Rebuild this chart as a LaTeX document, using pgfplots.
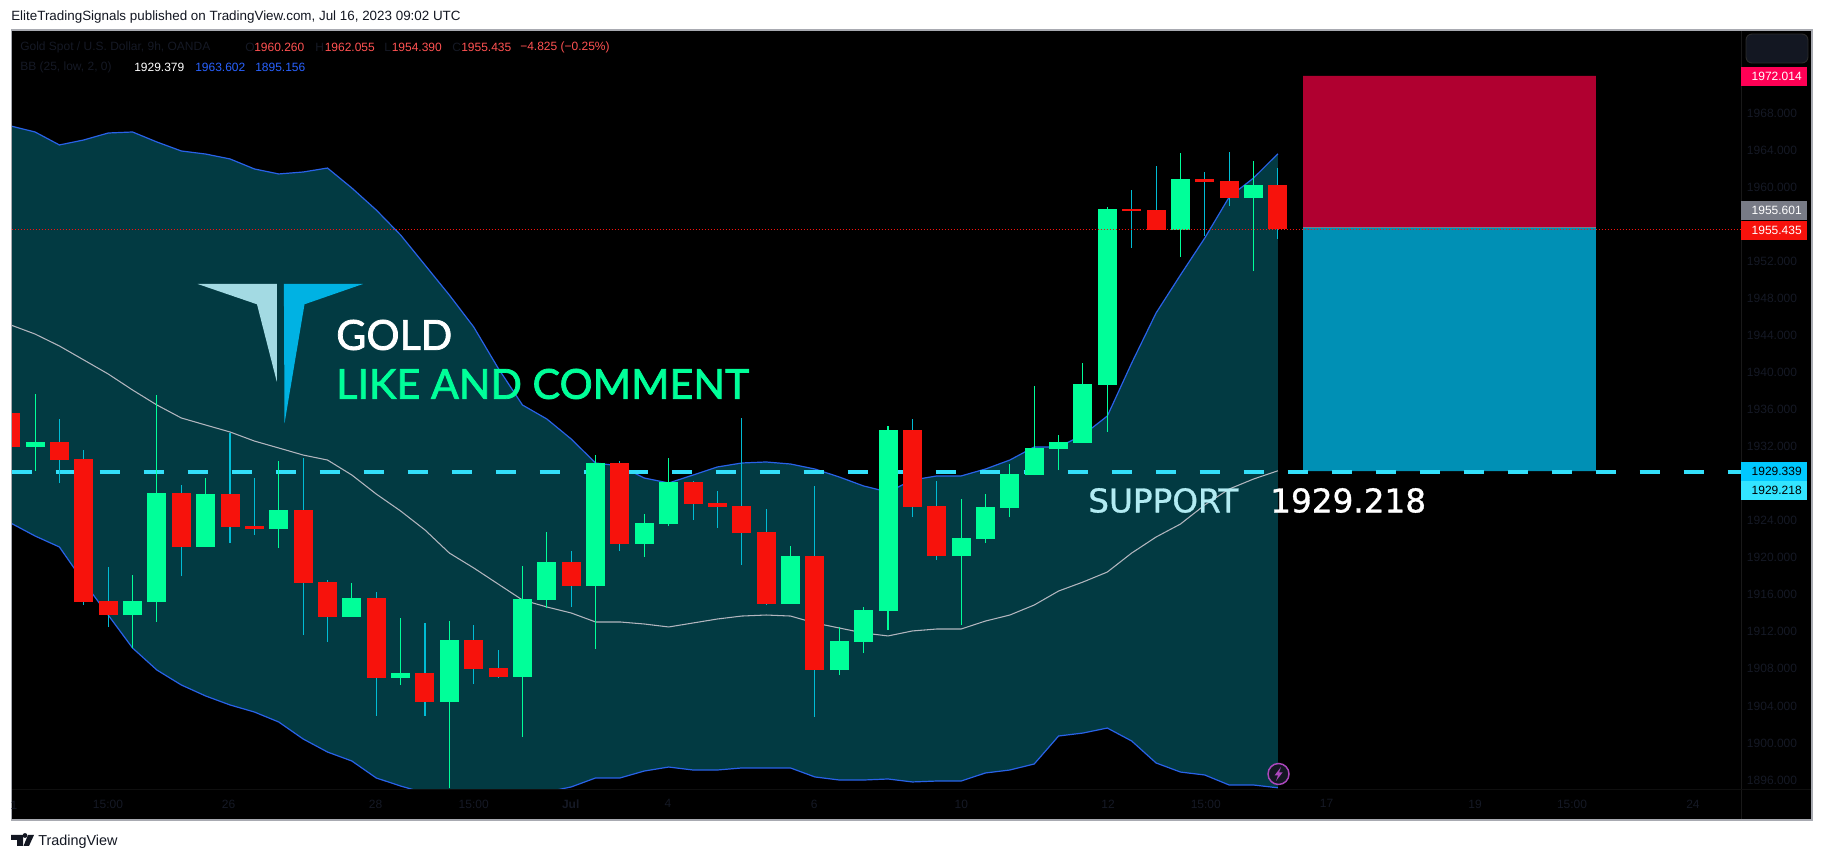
\documentclass[border=0pt]{standalone}
\usepackage{fontspec}
\usepackage{pgfplots}
\usepackage{pgfplotstable}
\pgfplotsset{compat=1.18}
\setmainfont{Liberation Sans}
\newfontfamily\dv[FakeBold=1]{DejaVu Sans}
\newfontfamily\lat[FakeBold=1.8]{Lato}
\definecolor{candG}{HTML}{00FF99}
\definecolor{candR}{HTML}{F7120C}
\definecolor{wickR}{HTML}{00BCD4}
\definecolor{bandL}{HTML}{2962E8}
\definecolor{bandF}{HTML}{023A42}
\definecolor{midL}{HTML}{B2B5BE}
\definecolor{dimT}{HTML}{151925}
\definecolor{legR}{HTML}{FF5252}
\definecolor{legB}{HTML}{2962FF}
\definecolor{supp}{HTML}{33DFFA}
\definecolor{boxR}{HTML}{B00030}
\definecolor{boxB}{HTML}{0090B5}
\definecolor{ink}{HTML}{131722}
\definecolor{plA}{HTML}{FF0055}
\definecolor{plB}{HTML}{787B86}
\definecolor{plC}{HTML}{00C8FF}
\definecolor{plD}{HTML}{33E5FF}
\definecolor{logoA}{HTML}{A3DAE3}
\definecolor{logoB}{HTML}{00B2E3}
\definecolor{suppT}{HTML}{B2EBF2}
\definecolor{purp}{HTML}{AB47BC}
\pgfplotstableread{
i up mid lo
0 1966.60 1945.12 1923.74
1 1965.95 1944.14 1922.34
2 1964.55 1942.85 1921.15
3 1965.09 1941.34 1917.37
4 1965.84 1939.83 1913.81
5 1965.95 1938.10 1910.25
6 1964.87 1936.48 1907.87
7 1963.90 1935.08 1906.26
8 1963.57 1934.32 1905.07
9 1963.04 1933.57 1904.10
10 1961.96 1932.59 1903.34
11 1961.42 1931.84 1902.26
12 1961.63 1931.08 1900.43
13 1962.06 1930.54 1899.02
14 1959.90 1928.92 1898.05
15 1957.53 1926.87 1896.22
16 1954.83 1925.04 1895.35
17 1951.59 1922.99 1894.60
18 1948.35 1920.50 1894.17
19 1944.90 1918.89 1894.17
20 1940.47 1917.16 1894.27
21 1936.48 1915.43 1894.38
22 1934.97 1914.68 1894.71
23 1932.81 1914.03 1895.25
24 1930.22 1913.06 1896.22
25 1929.90 1913.06 1896.22
26 1928.60 1912.84 1896.97
27 1928.06 1912.52 1897.40
28 1928.92 1912.95 1897.08
29 1929.79 1913.38 1897.08
30 1930.22 1913.70 1897.30
31 1930.33 1913.81 1897.30
32 1930.11 1913.70 1897.30
33 1929.57 1912.95 1896.33
34 1928.71 1912.41 1896.00
35 1927.74 1911.87 1896.00
36 1927.09 1911.55 1896.11
37 1928.38 1912.09 1895.79
38 1928.82 1912.30 1895.89
39 1928.82 1912.30 1895.89
40 1929.57 1913.16 1896.76
41 1930.54 1913.81 1897.08
42 1931.95 1914.89 1897.73
43 1931.95 1916.40 1900.75
44 1933.24 1917.37 1901.07
45 1935.29 1918.45 1901.61
46 1941.01 1920.50 1900.21
47 1946.41 1922.23 1897.84
48 1950.51 1923.63 1896.86
49 1954.51 1925.69 1896.54
50 1958.93 1927.41 1895.46
51 1960.98 1928.49 1895.46
52 1963.60 1929.38 1895.16
}\bands
\pgfplotstableread{
i y
0 1966.60
1 1965.95
2 1964.55
3 1965.09
4 1965.84
5 1965.95
6 1964.87
7 1963.90
8 1963.57
9 1963.04
10 1961.96
11 1961.42
12 1961.63
13 1962.06
14 1959.90
15 1957.53
16 1954.83
17 1951.59
18 1948.35
19 1944.90
20 1940.47
21 1936.48
22 1934.97
23 1932.81
24 1930.22
25 1929.90
26 1928.60
27 1928.06
28 1928.92
29 1929.79
30 1930.22
31 1930.33
32 1930.11
33 1929.57
34 1928.71
35 1927.74
36 1927.09
37 1928.38
38 1928.82
39 1928.82
40 1929.57
41 1930.54
42 1931.95
43 1931.95
44 1933.24
45 1935.29
46 1941.01
47 1946.41
48 1950.51
49 1954.51
50 1958.93
51 1960.98
52 1963.60
52 1895.16
51 1895.46
50 1895.46
49 1896.54
48 1896.86
47 1897.84
46 1900.21
45 1901.61
44 1901.07
43 1900.75
42 1897.73
41 1897.08
40 1896.76
39 1895.89
38 1895.89
37 1895.79
36 1896.11
35 1896.00
34 1896.00
33 1896.33
32 1897.30
31 1897.30
30 1897.30
29 1897.08
28 1897.08
27 1897.40
26 1896.97
25 1896.22
24 1896.22
23 1895.25
22 1894.71
21 1894.38
20 1894.27
19 1894.17
18 1894.17
17 1894.60
16 1895.35
15 1896.22
14 1898.05
13 1899.02
12 1900.43
11 1902.26
10 1903.34
9 1904.10
8 1905.07
7 1906.26
6 1907.87
5 1910.25
4 1913.81
3 1917.37
2 1921.15
1 1922.34
0 1923.74
}\bandpoly
\pgfplotstableread{
i blo bhi wlo whi
1 1931.95 1932.49 1929.36 1937.67
5 1913.81 1915.32 1910.25 1918.13
6 1915.21 1926.98 1913.06 1937.56
8 1921.15 1926.87 1921.15 1928.60
11 1923.09 1925.15 1921.04 1930.44
14 1913.60 1915.65 1913.60 1917.27
16 1907.01 1907.55 1906.26 1913.49
18 1904.42 1911.11 1895.10 1913.16
21 1907.12 1915.54 1900.64 1919.10
22 1915.43 1919.53 1914.57 1922.77
24 1916.94 1930.22 1910.14 1931.08
26 1921.48 1923.74 1920.07 1924.71
27 1923.63 1928.17 1923.42 1930.76
32 1915.00 1920.18 1915.00 1921.26
34 1907.87 1911.00 1907.33 1912.52
35 1910.90 1914.35 1909.71 1914.68
36 1914.24 1933.78 1912.19 1934.21
39 1920.18 1922.12 1912.73 1926.33
40 1922.02 1925.47 1921.58 1926.87
41 1925.36 1929.03 1924.39 1930.11
42 1928.92 1931.84 1928.92 1938.53
43 1931.73 1932.49 1929.46 1933.24
44 1932.38 1938.75 1932.38 1941.01
45 1938.64 1957.64 1933.57 1957.85
48 1955.37 1960.88 1952.46 1963.68
51 1958.83 1960.23 1950.95 1962.82
}\greens
\pgfplotstableread{
i blo bhi wlo whi
0 1931.95 1935.62 1931.95 1936.50
2 1930.54 1932.49 1928.06 1934.97
3 1915.21 1930.65 1914.89 1931.62
4 1913.81 1915.32 1912.52 1918.99
7 1921.15 1926.98 1918.02 1927.84
9 1923.31 1926.87 1921.58 1933.46
10 1923.09 1923.42 1922.45 1928.60
12 1917.27 1925.15 1911.65 1930.76
13 1913.60 1917.37 1910.90 1917.59
15 1907.01 1915.65 1902.91 1916.30
17 1904.42 1907.55 1902.91 1912.95
19 1907.98 1911.11 1906.36 1912.73
20 1907.12 1908.09 1907.01 1910.03
23 1916.94 1919.53 1914.68 1920.72
25 1921.48 1930.22 1920.72 1930.44
28 1925.79 1928.17 1924.07 1928.28
29 1925.47 1925.90 1923.20 1927.20
30 1922.66 1925.58 1919.21 1935.08
31 1915.00 1922.77 1914.89 1925.25
33 1907.87 1920.18 1902.80 1927.74
37 1925.47 1933.78 1924.39 1934.97
38 1920.18 1925.58 1919.75 1928.28
46 1957.42 1957.64 1953.43 1959.69
47 1955.37 1957.53 1955.37 1962.28
49 1960.55 1960.88 1954.72 1961.63
50 1958.83 1960.66 1957.96 1963.79
52 1955.435 1960.26 1954.39 1962.055
}\reds
\begin{document}
\begin{tikzpicture}
\useasboundingbox (0,0) rectangle (1368pt,645pt);
\fill[white] (0,0) rectangle (1368pt,645pt);
\begin{scope}[x=0.75pt,y=-0.75pt,yshift=645pt]
\fill[black] (11.5,30) rectangle (1812,820);
\end{scope}
\begin{axis}[
  at={(8.7pt,53.25pt)}, anchor=south west,
  scale only axis, width=1297.05pt, height=569.25pt,
  xmin=0.037, xmax=71.0, ymin=1895.03, ymax=1976.96,
  axis line style={draw=none}, major tick length=0pt,
  axis background/.style={fill=black},
  ytick={1896,1900,1904,1908,1912,1916,1920,1924,1932,1936,1940,1944,1948,1952,1960,1964,1968},
  yticklabel pos=right,
  yticklabel style={font=\fontsize{9}{9}\selectfont, text=dimT, xshift=1pt, /pgf/number format/.cd, fixed, fixed zerofill, precision=3, set thousands separator={}, assume math mode=true},
  xtick={3.99,8.94,14.97,19.0,22.98,26.97,32.97,39.01,45.03,49.04,54.0,60.09,64.07,69.03},
  xticklabels={15:00,26,28,15:00,\textbf{Jul},4,6,10,12,15:00,17,19,15:00,24},
  xticklabel style={font=\fontsize{9}{9}\selectfont, text=dimT, yshift=-4.5pt},
]
\addplot[fill=bandF, draw=none, forget plot] table[x=i,y=y] {\bandpoly};
\addplot[bandL, line width=0.9pt, forget plot] table[x=i,y=up] {\bands};
\addplot[bandL, line width=0.9pt, forget plot] table[x=i,y=lo] {\bands};
\addplot[midL, line width=0.8pt, forget plot] table[x=i,y=mid] {\bands};
% risk / reward boxes
\addplot[fill=boxR, draw=none, forget plot] coordinates {(53.03,1955.601)(65.05,1955.601)(65.05,1972.014)(53.03,1972.014)(53.03,1955.601)};
\addplot[fill=boxB, draw=none, forget plot] coordinates {(53.03,1929.339)(65.05,1929.339)(65.05,1955.601)(53.03,1955.601)(53.03,1929.339)};
\addplot[color=plB, line width=0.8pt, forget plot] coordinates {(53.03,1955.601)(65.05,1955.601)};
% support
\addplot[supp, line width=3.1pt, dash pattern=on 15pt off 18pt, forget plot] coordinates {(0.037,1929.28)(71,1929.28)};
% candles
\addplot[draw=none, mark=none, forget plot, error bars/.cd, y dir=plus, y explicit, error mark=none, error bar style={draw=candG, line width=0.8pt}]
  table[x=i,y=wlo,y error plus expr=\thisrow{whi}-\thisrow{wlo}] {\greens};
\addplot[draw=none, mark=none, forget plot, error bars/.cd, y dir=plus, y explicit, error mark=none, error bar style={draw=wickR, line width=0.8pt}]
  table[x=i,y=wlo,y error plus expr=\thisrow{whi}-\thisrow{wlo}] {\reds};
\addplot[draw=none, mark=none, forget plot, error bars/.cd, y dir=plus, y explicit, error mark=none, error bar style={draw=candG, line width=14.25pt}]
  table[x=i,y=blo,y error plus expr=\thisrow{bhi}-\thisrow{blo}] {\greens};
\addplot[draw=none, mark=none, forget plot, error bars/.cd, y dir=plus, y explicit, error mark=none, error bar style={draw=candR, line width=14.25pt}]
  table[x=i,y=blo,y error plus expr=\thisrow{bhi}-\thisrow{blo}] {\reds};
% last price
\addplot[candR, line width=0.85pt, dash pattern=on 1pt off 1.25pt, forget plot] coordinates {(0.037,1955.435)(71,1955.435)};
\end{axis}
\begin{scope}[x=0.75pt,y=-0.75pt,yshift=645pt]
% frame and separators
\draw[color=white!10!black, line width=0.6pt] (1741,30) -- (1741,820);
\draw[color=white!6!black, line width=0.6pt] (11.5,789) -- (1812,789);
\draw[color=midL!80!gray, line width=0.9pt] (11.5,820) -- (11.5,30) -- (1812,30) -- (1812,820) -- cycle;
% header and footer
\node[anchor=west, inner sep=0, text=ink, font=\fontsize{10.05}{11}\selectfont] at (11,17) {EliteTradingSignals published on TradingView.com, Jul 16, 2023 09:02 UTC};
\node[anchor=west, inner sep=0, text=ink, font=\fontsize{10.8}{11}\selectfont] at (38,841.5) {TradingView};
\fill[ink] (11,835) -- (23,835) -- (23,846) -- (17,846) -- (17,840) -- (11,840) -- cycle;
\fill[ink] (25,835.5) circle[radius=2.4];
\fill[ink] (28,835) -- (34,835) -- (29,846) -- (23.5,846) -- cycle;
% legend
\tikzset{lg/.style={anchor=west, inner sep=0, font=\fontsize{9}{10}\selectfont}}
\node[lg, text=dimT] at (20,47) {Gold Spot / U.S. Dollar, 9h, OANDA};
\node[lg, text=dimT] at (245,47) {O};
\node[lg, text=legR] at (254,47) {1960.260};
\node[lg, text=dimT] at (315,47) {H};
\node[lg, text=legR] at (324.5,47) {1962.055};
\node[lg, text=dimT] at (384,47) {L};
\node[lg, text=legR] at (391.5,47) {1954.390};
\node[lg, text=dimT] at (452,47) {C};
\node[lg, text=legR] at (461,47) {1955.435};
\node[lg, text=legR] at (520,47) {−4.825 (−0.25\%)};
\node[lg, text=dimT] at (20,67) {BB (25, low, 2, 0)};
\node[lg, text=white] at (134,67) {1929.379};
\node[lg, text=legB] at (195,67) {1963.602};
\node[lg, text=legB] at (255,67) {1895.156};
% top-right button
\draw[fill=ink, draw=white!17!black, line width=0.7pt, rounded corners=4.5pt] (1746,34) rectangle (1808,63);
% price labels
\tikzset{pl/.style={anchor=east, inner sep=0, font=\fontsize{9}{10}\selectfont}}
\fill[plA] (1741,67) rectangle (1807,86);
\node[pl, text=white] at (1802,76.5) {1972.014};
\fill[plB] (1741,201) rectangle (1807,220);
\node[pl, text=white] at (1802,210.5) {1955.601};
\fill[candR] (1741,221) rectangle (1807,240);
\node[pl, text=white] at (1802,230.5) {1955.435};
\fill[plC] (1741,462) rectangle (1807,481);
\node[pl, text=black] at (1802,471.5) {1929.339};
\fill[plD] (1741,481) rectangle (1807,500);
\node[pl, text=black] at (1802,490.5) {1929.218};
% clipped date label
\node[inner sep=0, text=dimT, font=\fontsize{9}{10}\selectfont] at (14,805) {1};
% logo
\fill[logoA] (197.7,284) -- (276.8,284) -- (276.8,381.7) -- (257,304.3) -- cycle;
\fill[logoB] (283.9,284) -- (363,284) -- (304.5,304.3) -- (284.5,423.5) -- cycle;
% drawn texts
\node[anchor=west, inner sep=0, text=white, font=\lat\fontsize{31}{31}\selectfont] at (336,335) {GOLD};
\node[anchor=west, inner sep=0, text=candG, font=\lat\fontsize{31}{31}\selectfont] at (336,384) {LIKE AND COMMENT};
\node[anchor=west, inner sep=0, text=suppT, font=\dv\fontsize{24.5}{25}\selectfont] at (1088,500.5) {SUPPORT};
\node[anchor=west, inner sep=0, text=white, font=\dv\fontsize{24.5}{25}\selectfont] at (1270,500.5) {1929.218};
% alert badge
\draw[draw=purp, fill=ink, line width=1.1pt] (1278.5,774) circle[radius=10.5];
\fill[purp] (1281,767) -- (1274.5,775.5) -- (1278,775.5) -- (1276,781) -- (1282.5,772.5) -- (1279,772.5) -- cycle;
\end{scope}
\end{tikzpicture}
\end{document}
